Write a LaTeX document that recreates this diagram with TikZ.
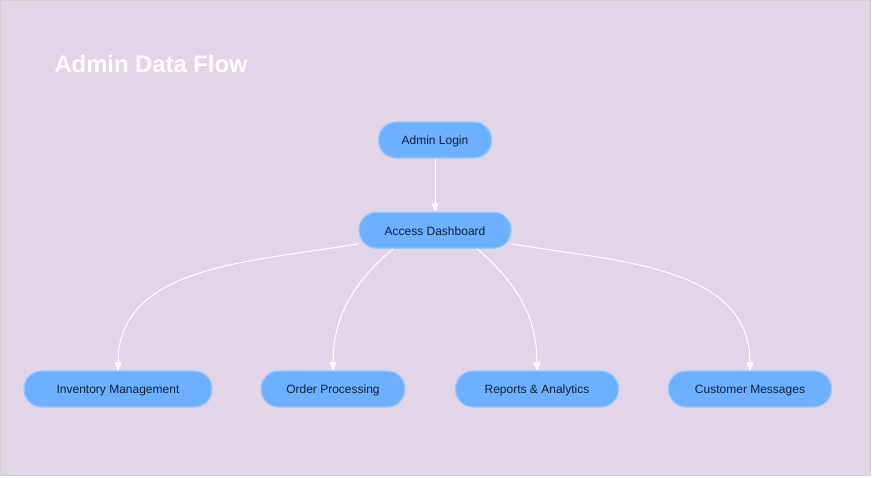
\documentclass[tikz,border=0pt]{standalone}
\usepackage{fontspec}
\setmainfont{Liberation Sans}
\usetikzlibrary{positioning,arrows.meta}
\definecolor{bgpurple}{HTML}{E1D5E7}
\definecolor{boxblue}{HTML}{6CB0FF}
\definecolor{boxedge}{HTML}{9CC8FF}
\definecolor{boxtext}{HTML}{14202E}

\begin{document}
\begin{tikzpicture}[x=1pt,y=-1pt,>={Triangle[width=7pt,length=8pt]},
    step node/.style={draw=boxedge,line width=1.2pt,fill=boxblue,rounded corners=17.5pt,
        minimum height=36pt,text height=9.6pt,text depth=0pt,text=boxtext,font=\fontsize{12}{14}\selectfont},
    flow/.style={->,draw=white,line width=1pt}]

    % background
    \fill[white] (0,0) rectangle (872,477);
    \fill[bgpurple,draw=black!18,line width=0.8pt] (0.5,0.5) rectangle (870,475);
    \useasboundingbox (0,0) rectangle (872,477);

    \node[anchor=west,text=white,font=\fontsize{23.8}{28}\selectfont\bfseries] (title) at (51,64) {Admin Data Flow};

    \node[step node,minimum width=113pt] (login) at (435,140) {Admin Login};
    \node[step node,minimum width=152pt] (dash) [below=53pt of login] {Access Dashboard};

    \node[step node,minimum width=188pt] (inv) at (118,389) {Inventory Management};
    \node[step node,minimum width=144pt] (order) at (333,389) {Order Processing};
    \node[step node,minimum width=163pt] (report) at (537,389) {Reports \& Analytics};
    \node[step node,minimum width=163pt] (msg) at (750,389) {Customer Messages};

    \draw[flow] (login) -- (dash);
    \draw[flow] (dash.190) to[out=190,in=90] (inv.north);
    \draw[flow] (dash.204) to[out=220,in=90] (order.north);
    \draw[flow] (dash.336) to[out=-40,in=90] (report.north);
    \draw[flow] (dash.350) to[out=-10,in=90] (msg.north);

\end{tikzpicture}
\end{document}
